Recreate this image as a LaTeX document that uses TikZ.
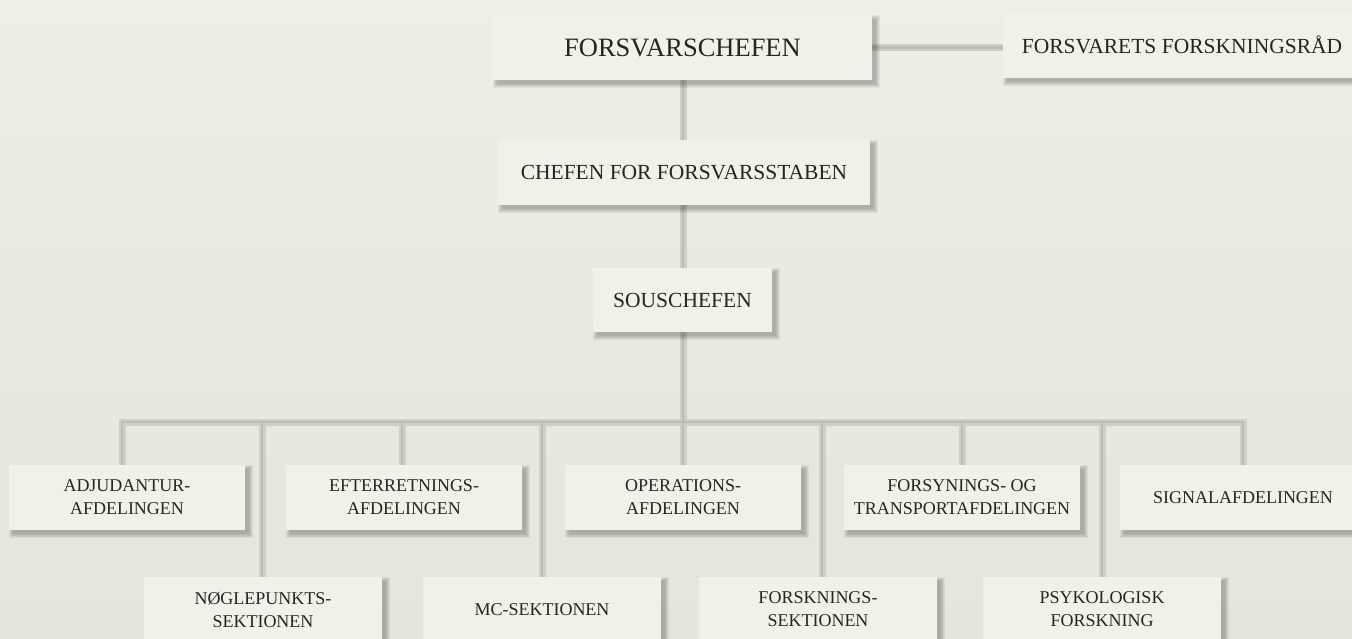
\documentclass[tikz,border=0pt]{standalone}
\usepackage{fontspec}
\setmainfont{Liberation Serif}
\pgfdeclarelayer{paper}
\pgfdeclarelayer{background}
\pgfdeclarelayer{shadow}
\pgfsetlayers{paper,background,shadow,main}
\definecolor{bgtop}{HTML}{EFEEE7}
\definecolor{bgbot}{HTML}{E6E5DB}
\definecolor{boxfill}{HTML}{F2F1E9}
\definecolor{txt}{HTML}{262523}
\definecolor{lineshade}{HTML}{D0CFC5}
\definecolor{linecore}{HTML}{BDBCB2}
\tikzset{
  orgbox/.style={draw=none, fill=boxfill, text=txt, align=center, inner sep=0pt},
  bigbox/.style={orgbox, font=\fontsize{26.5}{30}\selectfont},
  midbox/.style={orgbox, font=\fontsize{21.5}{26}\selectfont},
  unitbox/.style={orgbox, minimum width=236pt, minimum height=65pt, font=\fontsize{18}{23}\selectfont},
  conn/.style={draw=lineshade, line width=7pt},
  conncore/.style={draw=linecore, line width=2.6pt},
  shadowpiece/.style={fill=black, opacity=0.055}
}
\begin{document}
\begin{tikzpicture}[x=1pt,y=-1pt]
\useasboundingbox (0,0) rectangle (1352,639);
\clip (0,0) rectangle (1352,639);
\begin{pgfonlayer}{paper}
\shade[top color=bgtop, bottom color=bgbot] (0,0) rectangle (1352,639);
\end{pgfonlayer}

\node[bigbox, minimum width=379pt, minimum height=65pt] (fc) at (682.5,47.5) {FORSVARSCHEFEN};
\node[midbox, minimum width=358pt, minimum height=66pt] (ffr) at (1182,45) {FORSVARETS FORSKNINGSRÅD};
\node[midbox, minimum width=372pt, minimum height=65pt] (cfs) at (684,172.5) {CHEFEN FOR FORSVARSSTABEN};
\node[midbox, minimum width=179pt, minimum height=64pt] (sc) at (682.5,300) {SOUSCHEFEN};

\node[unitbox] (adj) at (127,497.5) {ADJUDANTUR-\\AFDELINGEN};
\node[unitbox] (eft) at (404,497.5) {EFTERRETNINGS-\\AFDELINGEN};
\node[unitbox] (ops) at (683,497.5) {OPERATIONS-\\AFDELINGEN};
\node[unitbox] (fot) at (962,497.5) {FORSYNINGS- OG\\TRANSPORTAFDELINGEN};
\node[unitbox, minimum width=246pt] (sig) at (1243,497.5) {SIGNALAFDELINGEN};

\node[unitbox, minimum width=238pt] (nog) at (263,609.5) {NØGLEPUNKTS-\\SEKTIONEN};
\node[unitbox, minimum width=238pt] (mc) at (542,609.5) {MC-SEKTIONEN};
\node[unitbox, minimum width=238pt] (fs) at (818,609.5) {FORSKNINGS-\\SEKTIONEN};
\node[unitbox, minimum width=238pt] (psy) at (1102,609.5) {PSYKOLOGISK\\FORSKNING};

% soft drop shadows, offset to the lower right
\begin{pgfonlayer}{shadow}
\foreach \n in {fc,ffr,cfs,sc,adj,eft,ops,fot,sig,nog,mc,fs,psy}{
  \foreach \r in {0,1,2,3,4}{
    \fill[shadowpiece] ([xshift=4pt-\r pt, yshift=-4pt+\r pt]\n.north west)
                       rectangle ([xshift=4pt+\r pt, yshift=-4pt-\r pt]\n.south east);
  }
}
\end{pgfonlayer}

\coordinate (b1) at (122,422);
\coordinate (b2) at (262,422);
\coordinate (b3) at (402,422);
\coordinate (b4) at (542,422);
\coordinate (b5) at (683,422);
\coordinate (b6) at (822,422);
\coordinate (b7) at (962,422);
\coordinate (b8) at (1102,422);
\coordinate (b9) at (1243,422);

\begin{pgfonlayer}{background}
\foreach \s in {conn,conncore}{
  \draw[\s] (fc.east) -- (fc.east -| ffr.west);
  \draw[\s] (fc.south -| b5) -- (cfs.north -| b5);
  \draw[\s] (cfs.south -| b5) -- (sc.north -| b5);
  \draw[\s] (sc.south -| b5) -- (b5);
  \draw[\s, line cap=rect] (b1) -- (b9);
  \draw[\s] (b1) -- (b1 |- adj.north);
  \draw[\s] (b2) -- (b2 |- nog.north);
  \draw[\s] (b3) -- (b3 |- eft.north);
  \draw[\s] (b4) -- (b4 |- mc.north);
  \draw[\s] (b5) -- (b5 |- ops.north);
  \draw[\s] (b6) -- (b6 |- fs.north);
  \draw[\s] (b7) -- (b7 |- fot.north);
  \draw[\s] (b8) -- (b8 |- psy.north);
  \draw[\s] (b9) -- (b9 |- sig.north);
}
\end{pgfonlayer}
\end{tikzpicture}
\end{document}
